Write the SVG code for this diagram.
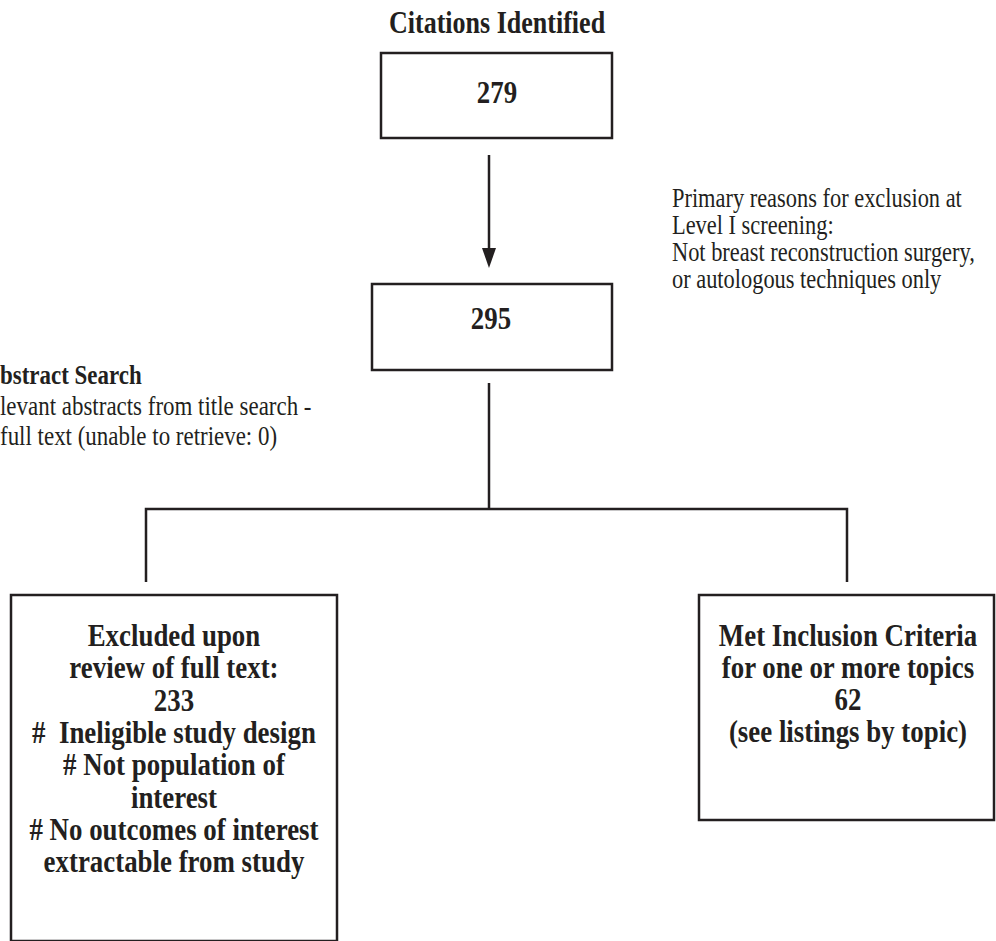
<svg xmlns="http://www.w3.org/2000/svg" width="996" height="941" viewBox="0 0 996 941">
<style>
.box{fill:#fff;stroke:#231f20;stroke-width:2.5}
.ln{fill:none;stroke:#231f20;stroke-width:2.5}
.b{font-family:"Liberation Serif","Times New Roman",serif;font-weight:bold;font-size:32px;fill:#231f20;text-anchor:middle}
.t{font-family:"Liberation Serif","Times New Roman",serif;font-weight:bold;font-size:31px;fill:#231f20;text-anchor:middle}
.r{font-family:"Liberation Serif","Times New Roman",serif;font-size:27px;fill:#231f20}
</style>
<g transform="scale(0.84,1)">
<text class="t" x="591.7" y="33">Citations Identified</text>
</g>
<g id="connectors">
<line class="ln" x1="489" y1="155" x2="489" y2="250"/>
<path d="M482,248 L496,248 L489,268 Z" fill="#231f20"/>
<line class="ln" x1="489" y1="383" x2="489" y2="509"/>
<polyline class="ln" points="146,582 146,509 847,509 847,582"/>
</g>
<g id="n279">
<rect class="box" x="381" y="53" width="231" height="85"/>
<g transform="scale(0.84,1)"><text class="b" x="591.7" y="103">279</text></g>
</g>
<g id="n295">
<rect class="box" x="372" y="284" width="240" height="86"/>
<g transform="scale(0.84,1)"><text class="b" x="584.5" y="329">295</text></g>
</g>
<g id="exclusionNote" transform="scale(0.83,1)">
<text class="r" x="809.6" y="207">Primary reasons for exclusion at</text>
<text class="r" x="809.6" y="234">Level I screening:</text>
<text class="r" x="809.6" y="261">Not breast reconstruction surgery,</text>
<text class="r" x="809.6" y="288">or autologous techniques only</text>
</g>
<g id="abstractNote" transform="scale(0.85,1)">
<text class="r" x="0" y="384" font-weight="bold">bstract Search</text>
<text class="r" x="0" y="415">levant abstracts from title search -</text>
<text class="r" x="0" y="445">full text (unable to retrieve: 0)</text>
</g>
<g id="excluded">
<rect class="box" x="11" y="595" width="326" height="346"/>
<g transform="scale(0.84,1)">
<text class="b" x="207.1" y="646">Excluded upon</text>
<text class="b" x="207.1" y="678">review of full text:</text>
<text class="b" x="207.1" y="711">233</text>
<text class="b" x="207.1" y="743" xml:space="preserve">#  Ineligible study design</text>
<text class="b" x="207.1" y="775"># Not population of</text>
<text class="b" x="207.1" y="808">interest</text>
<text class="b" x="207.1" y="840"># No outcomes of interest</text>
<text class="b" x="207.1" y="872">extractable from study</text>
</g>
</g>
<g id="included">
<rect class="box" x="699" y="595" width="295" height="225"/>
<g transform="scale(0.84,1)">
<text class="b" x="1009.5" y="646">Met Inclusion Criteria</text>
<text class="b" x="1009.5" y="678">for one or more topics</text>
<text class="b" x="1009.5" y="710">62</text>
<text class="b" x="1009.5" y="742">(see listings by topic)</text>
</g>
</g>
</svg>
